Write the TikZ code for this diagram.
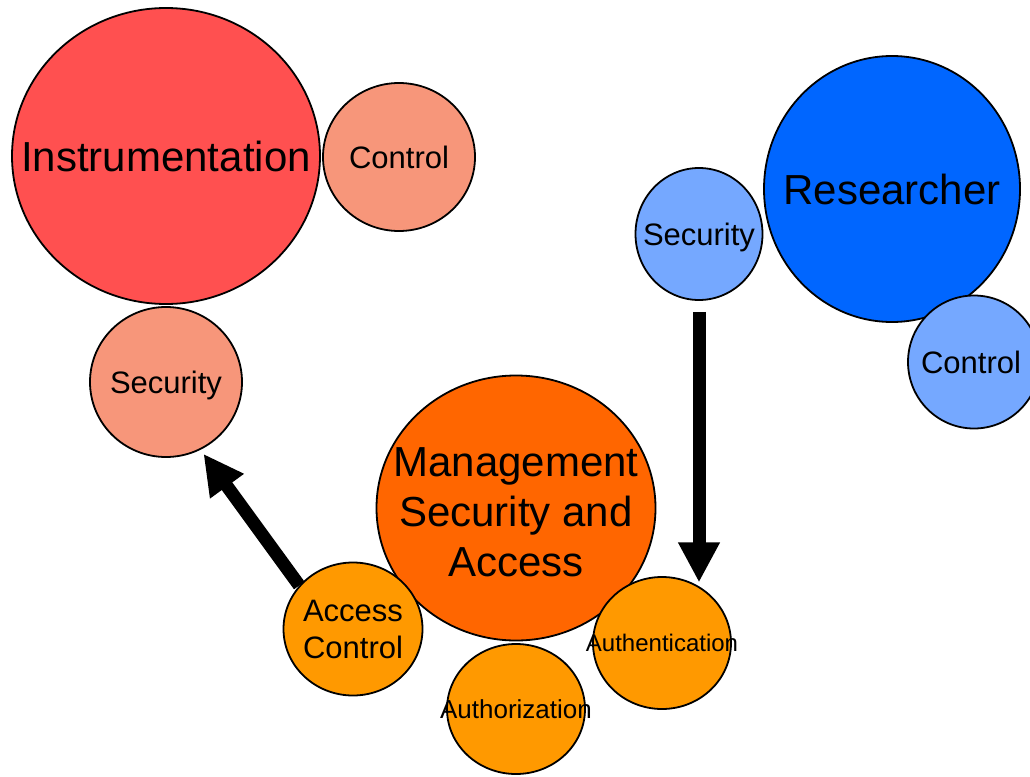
\documentclass[tikz,border=0pt]{standalone}
\usepackage{fontspec}
\setmainfont{Liberation Sans}
\usetikzlibrary{shapes.geometric,arrows.meta}
\definecolor{instrred}{HTML}{FF5050}
\definecolor{salmon}{HTML}{F7967A}
\definecolor{resblue}{HTML}{0066FF}
\definecolor{lightblue}{HTML}{75A8FF}
\definecolor{mgmtorange}{HTML}{FF6600}
\definecolor{subornage}{HTML}{FF9900}
\tikzset{
  bubble/.style={ellipse, draw=black, line width=1.8pt, inner sep=0pt},
  txt/.style={inner sep=0pt, align=center},
  bigtxt/.style={txt, font=\fontsize{42}{50.4}\selectfont, text height=30pt},
  midtxt/.style={txt, font=\fontsize{31}{37.5}\selectfont, text height=22.2pt},
  bigarrow/.style={line width=13pt, line cap=butt, -{Triangle[length=40pt,width=39pt]}}
}
\begin{document}
\begin{tikzpicture}[x=1pt,y=-1pt]
\useasboundingbox (0,0) rectangle (1030,776);
% big bubbles
\node[bubble, fill=instrred, minimum width=308pt, minimum height=296pt] (instr) at (166,156) {};
\node[bubble, fill=resblue, minimum width=256pt, minimum height=266pt] (res) at (892,189) {};
\node[bubble, fill=mgmtorange, minimum width=279pt, minimum height=265pt] (mgmt) at (516,508) {};
% small bubbles
\node[bubble, fill=salmon, minimum width=152pt, minimum height=148pt] (ctlA) at (399,157) {};
\node[bubble, fill=salmon, minimum width=152pt, minimum height=150pt] (secA) at (166,382) {};
\node[bubble, fill=lightblue, minimum width=127pt, minimum height=132pt] (secB) at (699,234) {};
\node[bubble, fill=lightblue, minimum width=132pt, minimum height=133pt] (ctlB) at (974,362) {};
\node[bubble, fill=subornage, minimum width=139pt, minimum height=133pt] (acc) at (353,629) {};
\node[bubble, fill=subornage, minimum width=138pt, minimum height=130pt] (authz) at (516,709) {};
\node[bubble, fill=subornage, minimum width=138pt, minimum height=132pt] (authn) at (662,643) {};
% arrows
\draw[bigarrow, shorten >=5pt] (acc.141) -- (secA.-63);
\draw[bigarrow, shorten <=11pt, shorten >=5pt] (secB.south) -- (secB.south |- authn.55);
% texts
\node[bigtxt, text depth=0pt] (instr-t) at (instr) {Instrumentation};
\node[bigtxt, text depth=0pt] (res-t) at (res) {Researcher};
\node[bigtxt] (mgmt-t) at (516,562) {Management\\Security and\\Access};
\node[midtxt, text depth=0pt] (ctlA-t) at (ctlA) {Control};
\node[midtxt, text depth=0pt] (secA-t) at (secA) {Security};
\node[midtxt, text depth=0pt] (secB-t) at (secB) {Security};
\node[midtxt, text depth=0pt] (ctlB-t) at (971,362) {Control};
\node[midtxt] (acc-t) at (353,648) {Access\\Control};
\node[txt, font=\fontsize{26}{31}\selectfont, text height=18.6pt, text depth=0pt] (authz-t) at (authz) {Authorization};
\node[txt, font=\fontsize{24}{29}\selectfont, text height=17.2pt, text depth=0pt] (authn-t) at (authn) {Authentication};
\end{tikzpicture}
\end{document}
